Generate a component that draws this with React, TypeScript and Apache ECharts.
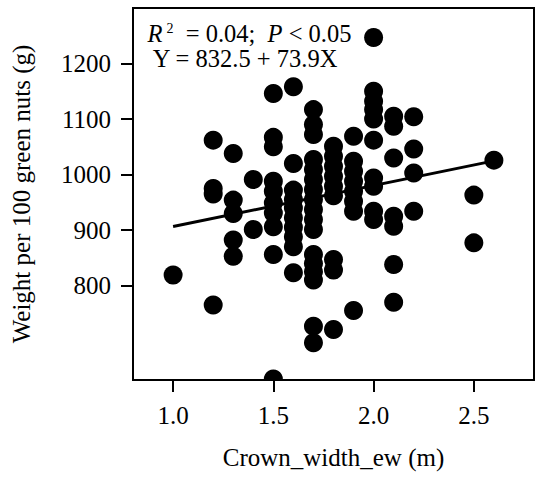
import React, { useEffect, useRef } from "react";
import * as echarts from "echarts";

// Crown width (m) columns and the nut weights (g) observed at each
const crownWidths = [1.0, 1.2, 1.3, 1.4, 1.5, 1.6, 1.7, 1.8, 1.9, 2.0, 2.1, 2.2, 2.5, 2.6];
const weightsByWidth = [
  [819],
  [1062, 975, 965, 765],
  [1038, 954, 930, 882, 853],
  [991, 901],
  [1146, 1067, 1050, 988, 970, 949, 931, 906, 856, 632],
  [1158, 1020, 972, 955, 940, 922, 905, 888, 870, 823],
  [1117, 1090, 1072, 1027, 1009, 991, 973, 955, 937, 919, 901, 856, 840, 825, 810, 727, 697],
  [1051, 1033, 1015, 997, 979, 962, 847, 828, 721],
  [1069, 1024, 1006, 988, 970, 952, 934, 755],
  [1247, 1150, 1132, 1117, 1100, 1062, 994, 979, 934, 919],
  [1105, 1087, 1030, 925, 907, 838, 770],
  [1104, 1046, 1003, 934],
  [963, 877],
  [1026],
];

// Fitted regression Y = 832.5 + 73.9X over the observed range
const fitIntercept = 832.5;
const fitSlope = 73.9;
const fitRange = [1.0, 2.6];

const xTickValues = [1.0, 1.5, 2.0, 2.5];
const yTickValues = [800, 900, 1000, 1100, 1200];

const FONT = "'Liberation Serif', 'Times New Roman', serif";

export default function App() {
  const ref = useRef<HTMLDivElement>(null);

  useEffect(() => {
    if (!ref.current) return;
    const chart = echarts.init(ref.current, null, { renderer: "svg" });

    const points: number[][] = [];
    crownWidths.forEach((x, i) => {
      weightsByWidth[i].forEach((y) => points.push([x, y]));
    });
    const fitLine = fitRange.map((x) => [x, fitIntercept + fitSlope * x]);

    const gridLeft = 133;
    const gridTop = 8;
    const gridRight = 16;
    const gridBottom = 102;
    const W = 550;
    const H = 482;

    chart.setOption({
      animation: false,
      backgroundColor: "#fff",
      grid: {
        left: gridLeft,
        top: gridTop,
        right: gridRight,
        bottom: gridBottom,
        show: true,
        borderColor: "#000",
        borderWidth: 2,
        backgroundColor: "transparent",
      },
      xAxis: {
        type: "value",
        min: 0.8,
        max: 2.8,
        z: 10,
        name: "Crown_width_ew (m)",
        nameLocation: "middle",
        nameGap: 65,
        nameTextStyle: { fontFamily: FONT, fontSize: 25, color: "#000" },
        axisLine: { show: true, lineStyle: { color: "#000", width: 2 } },
        axisTick: {
          show: true,
          inside: false,
          length: 12,
          customValues: xTickValues,
          lineStyle: { color: "#000", width: 2 },
        },
        axisLabel: {
          show: true,
          margin: 23,
          customValues: xTickValues,
          formatter: (v: number) => v.toFixed(1),
          fontFamily: FONT,
          fontSize: 25,
          color: "#000",
        },
        splitLine: { show: false },
      },
      yAxis: {
        type: "value",
        min: 630,
        max: 1300,
        z: 10,
        name: "Weight per 100 green nuts (g)",
        nameLocation: "middle",
        nameGap: 99,
        nameRotate: 90,
        nameTextStyle: { fontFamily: FONT, fontSize: 25, color: "#000" },
        axisLine: { show: true, lineStyle: { color: "#000", width: 2 } },
        axisTick: {
          show: true,
          inside: false,
          length: 12,
          customValues: yTickValues,
          lineStyle: { color: "#000", width: 2 },
        },
        axisLabel: {
          show: true,
          margin: 22,
          customValues: yTickValues,
          formatter: (v: number) => String(Math.round(v)),
          fontFamily: FONT,
          fontSize: 25,
          color: "#000",
        },
        splitLine: { show: false },
      },
      graphic: [
        {
          type: "rect",
          z: 3,
          silent: true,
          shape: { x: gridLeft - 12, y: H - gridBottom + 1, width: W - gridLeft - gridRight + 24, height: 20 },
          style: { fill: "#fff" },
        },
        {
          type: "text",
          z: 20,
          x: 147.5,
          y: 21,
          style: {
            text: "{i|R}{s|2}{n|  = 0.04;  }{i|P}{n| < 0.05}\n{n| Y = 832.5 + 73.9X}",
            verticalAlign: "top",
            align: "left",
            rich: {
              i: { fontFamily: FONT, fontSize: 24.5, fontStyle: "italic", fill: "#000", lineHeight: 25 },
              n: { fontFamily: FONT, fontSize: 24.5, fill: "#000", lineHeight: 25 },
              s: {
                fontFamily: FONT,
                fontSize: 14,
                fill: "#000",
                lineHeight: 14,
                verticalAlign: "top",
                padding: [0, 0, 0, 4],
              },
            },
          },
        },
      ],
      series: [
        {
          type: "scatter",
          data: points,
          symbol: "circle",
          symbolSize: 19,
          clip: false,
          z: 2,
          itemStyle: { color: "#000", opacity: 1 },
          emphasis: { disabled: true },
        },
        {
          type: "line",
          data: fitLine,
          symbol: "none",
          z: 2,
          lineStyle: { color: "#000", width: 3 },
          emphasis: { disabled: true },
        },
      ],
    });

    return () => chart.dispose();
  }, []);

  return (
    <div
      ref={ref}
      style={{ position: "fixed", left: 0, top: 0, width: 550, height: 482 }}
    />
  );
}
